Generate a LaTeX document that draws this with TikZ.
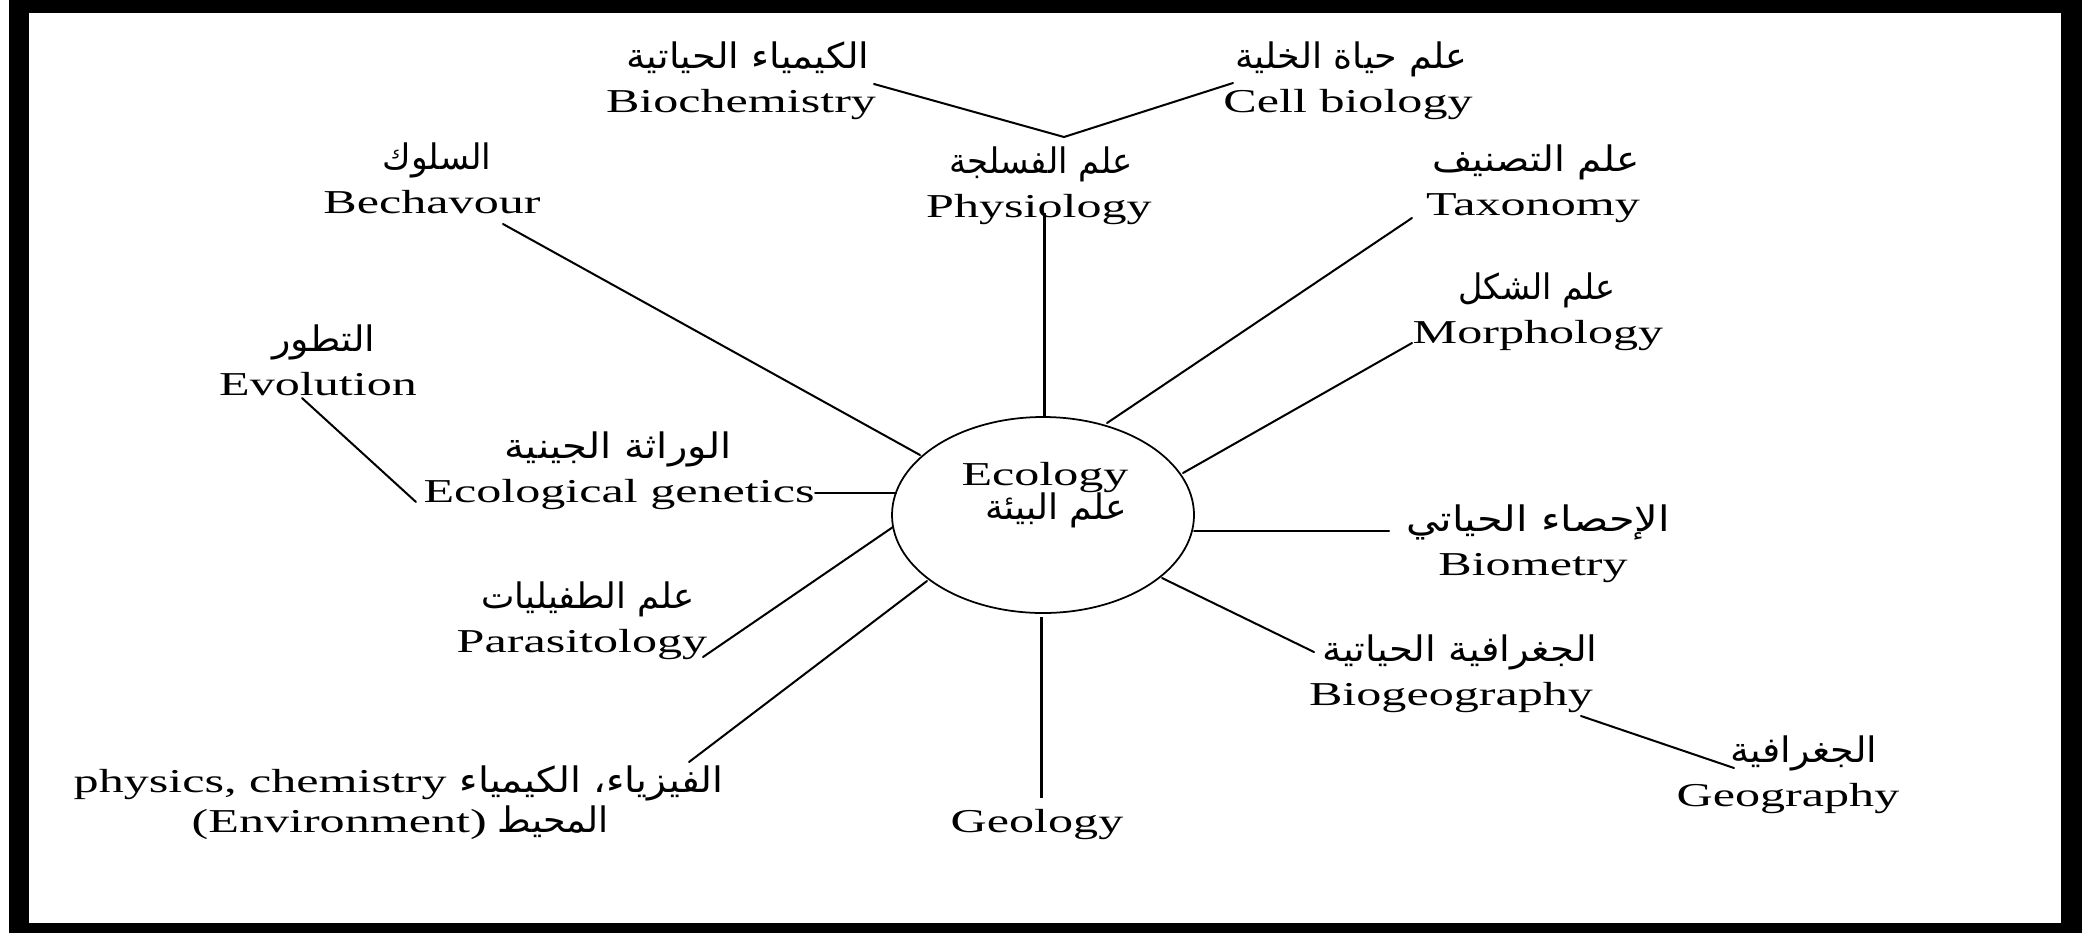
\documentclass[tikz,border=0pt]{standalone}
\usepackage{fontspec}
\usepackage{graphicx}
\usetikzlibrary{shapes.geometric}
\setmainfont{Liberation Serif}[FakeStretch=1.5]
\newfontfamily\arabicfont[Script=Arabic]{DejaVu Sans}
\TeXXeTstate=1
\newlength\pxu
\setlength\pxu{0.01cm}
\newcommand{\artext}[2]{\resizebox{#1\pxu}{\height}{\arabicfont #2}}
\begin{document}
\begin{tikzpicture}[x=0.01cm,y=-0.01cm,
  en/.style={anchor=base,inner sep=0pt,font=\fontsize{9.5}{11}\selectfont},
  ar/.style={anchor=base,inner sep=0pt,font=\fontsize{10}{12}\selectfont},
  conn/.style={line width=0.57pt,line cap=round},
  vconn/.style={line width=0.85pt},
  ecobox/.style={draw,ellipse,line width=0.5pt,inner sep=0pt,minimum width=302\pxu,minimum height=196\pxu}]
\useasboundingbox (0,0) rectangle (2082,933);
\fill[black] (9,0) rectangle (2082,933);
\fill[white] (29,13) rectangle (2061,923);

% centre
\node[ecobox] (eco) at (1043,515) {};
\node[en] (ecoE) at (1045,485) {Ecology};
\node[ar] (ecoA) at (1056,519) {\artext{142}{\beginR علم البيئة\endR}};

% labels
\node[en] (bioc) at (741,112) {Biochemistry};
\node[ar] (biocA) at (748,68) {\artext{243}{\beginR الكيمياء الحياتية\endR}};
\node[en] (cell) at (1348,112) {Cell biology};
\node[ar] (cellA) at (1351,68) {\artext{232}{\beginR علم حياة الخلية\endR}};
\node[en] (phys) at (1039,217) {Physiology};
\node[ar] (physA) at (1041,173) {\artext{183}{\beginR علم الفسلجة\endR}};
\node[en] (bech) at (432,213) {Bechavour};
\node[ar] (bechA) at (437,169) {\artext{109}{\beginR السلوك\endR}};
\node[en] (taxo) at (1533,215) {Taxonomy};
\node[ar] (taxoA) at (1536,171) {\artext{207}{\beginR علم التصنيف\endR}};
\node[en] (morph) at (1538,343) {Morphology};
\node[ar] (morphA) at (1537,299) {\artext{157}{\beginR علم الشكل\endR}};
\node[en] (evol) at (318,395) {Evolution};
\node[ar] (evolA) at (324,351) {\artext{103}{\beginR التطور\endR}};
\node[en] (ecogen) at (619,502) {Ecological genetics};
\node[ar] (ecogenA) at (618,458) {\artext{227}{\beginR الوراثة الجينية\endR}};
\node[en] (biom) at (1533,575) {Biometry};
\node[ar] (biomA) at (1538,531) {\artext{264}{\beginR الإحصاء الحياتي\endR}};
\node[en] (para) at (582,652) {Parasitology};
\node[ar] (paraA) at (588,608) {\artext{213}{\beginR علم الطفيليات\endR}};
\node[en] (biogeo) at (1451,705) {Biogeography};
\node[ar] (biogeoA) at (1460,661) {\artext{275}{\beginR الجغرافية الحياتية\endR}};
\node[en] (geog) at (1788,806) {Geography};
\node[ar] (geogA) at (1804,762) {\artext{147}{\beginR الجغرافية\endR}};
\node[en] (geol) at (1037,832) {Geology};
\node[en,anchor=base west] (pc1) at (73,792) {physics, chemistry};
\node[ar,anchor=base west] (pc1A) at (459,792) {\artext{264}{\beginR الفيزياء، الكيمياء\endR}};
\node[en,anchor=base west] (pc2) at (191,832) {(Environment)};
\node[ar,anchor=base west] (pc2A) at (497,832) {\artext{111}{\beginR المحيط\endR}};

% connector ends
\coordinate (bioc-e) at (874,84);
\coordinate (vtx) at (1064,137);
\coordinate (cell-e) at (1233,83);
\coordinate (phys-e) at (1044,213);
\coordinate (eco-phys) at (1044,417);
\coordinate (bech-e) at (503,224);
\coordinate (eco-bech) at (920,455);
\coordinate (taxo-e) at (1412,218);
\coordinate (eco-taxo) at (1107,423);
\coordinate (morph-e) at (1412,343);
\coordinate (eco-morph) at (1183,473);
\coordinate (biom-e) at (1389,531);
\coordinate (eco-biom) at (1194,531);
\coordinate (biogeo-e) at (1314,652);
\coordinate (eco-biogeo) at (1162,578);
\coordinate (biogeo-e2) at (1581,716);
\coordinate (geog-e) at (1734,768);
\coordinate (geol-e) at (1041,798);
\coordinate (eco-geol) at (1041,617);
\coordinate (pc-e) at (689,762);
\coordinate (eco-pc) at (927,581);
\coordinate (para-e) at (703,657);
\coordinate (eco-para) at (893,527);
\coordinate (ecogen-e) at (815,493);
\coordinate (eco-ecogen) at (896,493);
\coordinate (evol-e) at (302,398);
\coordinate (ecogen-e2) at (416,502);

\draw[conn] (bioc-e) -- (vtx) -- (cell-e);
\draw[vconn] (phys-e) -- (eco-phys);
\draw[conn] (bech-e) -- (eco-bech);
\draw[conn] (taxo-e) -- (eco-taxo);
\draw[conn] (morph-e) -- (eco-morph);
\draw[conn] (biom-e) -- (eco-biom);
\draw[conn] (biogeo-e) -- (eco-biogeo);
\draw[conn] (biogeo-e2) -- (geog-e);
\draw[vconn] (geol-e) -- (eco-geol);
\draw[conn] (pc-e) -- (eco-pc);
\draw[conn] (para-e) -- (eco-para);
\draw[conn] (ecogen-e) -- (eco-ecogen);
\draw[conn] (evol-e) -- (ecogen-e2);
\end{tikzpicture}
\end{document}
